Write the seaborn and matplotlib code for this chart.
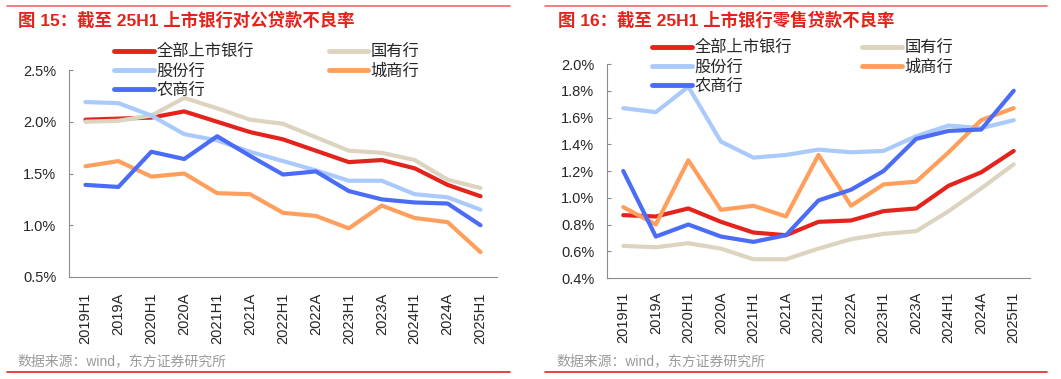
import numpy as np
import pandas as pd
import matplotlib.pyplot as plt
import seaborn as sns
from matplotlib.lines import Line2D
from matplotlib.ticker import FuncFormatter

periods = ['2019H1', '2019A', '2020H1', '2020A', '2021H1', '2021A', '2022H1',
           '2022A', '2023H1', '2023A', '2024H1', '2024A', '2025H1']
series_names = ['全部上市银行', '国有行', '股份行', '城商行', '农商行']
colors = ['#E3231C', '#DDD4C0', '#A9CAFB', '#FF9F5E', '#4A6CF7']

# 对公贷款不良率 (%)
corp_all = [2.02, 2.03, 2.04, 2.10, 2.00, 1.90, 1.83, 1.72, 1.61, 1.63, 1.55, 1.39, 1.28]
corp_state = [2.00, 2.01, 2.06, 2.23, 2.13, 2.02, 1.98, 1.85, 1.72, 1.70, 1.63, 1.44, 1.36]
corp_joint = [2.19, 2.18, 2.06, 1.88, 1.82, 1.71, 1.62, 1.53, 1.43, 1.43, 1.30, 1.27, 1.15]
corp_city = [1.57, 1.62, 1.47, 1.50, 1.31, 1.30, 1.12, 1.09, 0.97, 1.19, 1.07, 1.03, 0.74]
corp_rural = [1.39, 1.37, 1.71, 1.64, 1.86, 1.67, 1.49, 1.52, 1.33, 1.25, 1.22, 1.21, 1.00]

# 零售贷款不良率 (%)
retail_all = [0.87, 0.86, 0.92, 0.82, 0.74, 0.72, 0.82, 0.83, 0.90, 0.92, 1.09, 1.19, 1.35]
retail_state = [0.64, 0.63, 0.66, 0.62, 0.54, 0.54, 0.62, 0.69, 0.73, 0.75, 0.90, 1.07, 1.25]
retail_joint = [1.67, 1.64, 1.83, 1.42, 1.30, 1.32, 1.36, 1.34, 1.35, 1.46, 1.54, 1.52, 1.58]
retail_city = [0.93, 0.80, 1.28, 0.91, 0.94, 0.86, 1.32, 0.94, 1.10, 1.12, 1.34, 1.58, 1.67]
retail_rural = [1.20, 0.71, 0.80, 0.71, 0.67, 0.72, 0.98, 1.06, 1.20, 1.44, 1.50, 1.51, 1.80]

sns.set_style('white')
plt.rcParams['font.family'] = ['Liberation Sans', 'Noto Sans CJK SC']

RED = '#E3231C'
SPINE = '#8C8C8C'


def build_frame(values):
    rows = []
    for name, vals in zip(series_names, values):
        for p, v in zip(periods, vals):
            rows.append({'period': p, 'value': v, 'series': name})
    return pd.DataFrame(rows)


def draw_panel(fig, rect, df, ylim, ystep, legend_xy, colspace, xpad, ypad):
    ax = fig.add_axes(rect)
    sns.lineplot(data=df, x='period', y='value', hue='series',
                 hue_order=series_names, palette=dict(zip(series_names, colors)),
                 linewidth=3, sort=False, estimator=None, legend=False, ax=ax)
    ax.set_xlim(-0.5, len(periods) - 0.5)
    ax.set_ylim(*ylim)
    ax.set_yticks(np.arange(ylim[0], ylim[1] + ystep / 2, ystep))
    ax.yaxis.set_major_formatter(FuncFormatter(lambda v, _: f'{v:.1f}%'))
    ax.set_xticks(range(len(periods)))
    ax.set_xticklabels(periods, rotation=90)
    ax.set_xticks(np.arange(-0.5, len(periods), 1), minor=True)
    ax.tick_params(axis='x', which='major', length=0, pad=xpad, labelsize=10.5)
    ax.tick_params(axis='x', which='minor', direction='in', length=4,
                   width=0.8, color=SPINE)
    ax.tick_params(axis='y', direction='in', length=3, width=0.8, color=SPINE,
                   pad=ypad, labelsize=10.5, left=True)
    ax.set_xlabel('')
    ax.set_ylabel('')
    for side in ['top', 'right']:
        ax.spines[side].set_visible(False)
    for side in ['left', 'bottom']:
        ax.spines[side].set_color(SPINE)
        ax.spines[side].set_linewidth(0.8)

    # 图例按行排列：两列
    order = [0, 2, 4, 1, 3]
    handles = [Line2D([], [], color=colors[i], linewidth=3.5,
                      solid_capstyle='round') for i in order]
    labels = [series_names[i] for i in order]
    ax.legend(handles, labels, ncol=2, loc='upper left', frameon=False,
              bbox_to_anchor=legend_xy, bbox_transform=fig.transFigure,
              borderpad=0, borderaxespad=0, handlelength=2.45,
              handletextpad=0.15, columnspacing=colspace, labelspacing=0.24,
              fontsize=11.7)
    return ax


W, H = 1061, 379
fig = plt.figure(figsize=(W / 100, H / 100), dpi=100)

corp_df = build_frame([corp_all, corp_state, corp_joint, corp_city, corp_rural])
retail_df = build_frame([retail_all, retail_state, retail_joint, retail_city, retail_rural])

draw_panel(fig, [69 / W, 1 - 277 / H, 428 / W, 207 / H], corp_df,
           (0.5, 2.5), 0.5, (114 / W, 1 - 44 / H), 4.6, 11, 9)
draw_panel(fig, [607 / W, 1 - 278 / H, 423 / W, 214 / H], retail_df,
           (0.4, 2.0), 0.2, (652 / W, 1 - 40 / H), 4.35, 10, 9)

# 标题、来源与分隔线
fig.text(18 / W, 1 - 20 / H, '图 15：截至 25H1 上市银行对公贷款不良率',
         color=RED, fontsize=12.5, fontweight='bold', va='center', ha='left')
fig.text(558 / W, 1 - 20 / H, '图 16：截至 25H1 上市银行零售贷款不良率',
         color=RED, fontsize=12.5, fontweight='bold', va='center', ha='left')
fig.text(17 / W, 1 - 361 / H, '数据来源：wind，东方证券研究所',
         color='#9A9A9A', fontsize=10, va='center', ha='left')
fig.text(556 / W, 1 - 361 / H, '数据来源：wind，东方证券研究所',
         color='#9A9A9A', fontsize=10, va='center', ha='left')

for x0, x1 in [(7, 510), (545, 1047)]:
    fig.add_artist(Line2D([x0 / W, x1 / W], [1 - 5.5 / H, 1 - 5.5 / H],
                          color='#EE6A6A', linewidth=1.2))
    fig.add_artist(Line2D([x0 / W, x1 / W], [1 - 372 / H, 1 - 372 / H],
                          color=RED, linewidth=1.2))

fig.savefig('out.png', dpi=100)
